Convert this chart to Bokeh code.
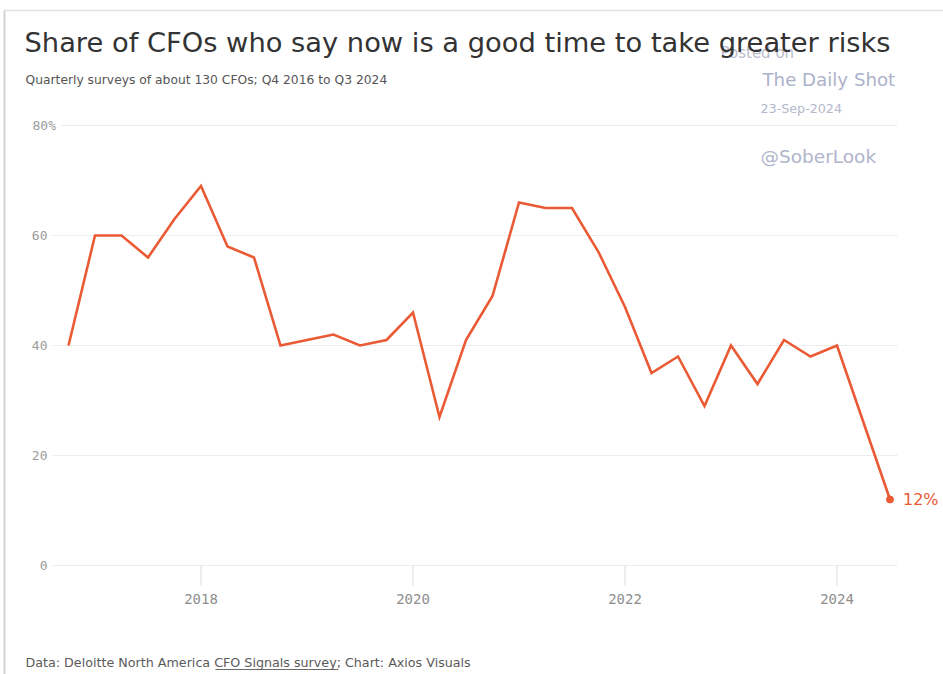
from bokeh.plotting import figure
from bokeh.models import Label, Range1d
from bokeh.core.properties import value
from bokeh.embed import file_html
from bokeh.resources import INLINE

# Survey quarters (decimal year) and share of CFOs (%)
quarters = ["Q4 2016", "Q1 2017", "Q2 2017", "Q3 2017", "Q4 2017",
            "Q1 2018", "Q2 2018", "Q3 2018", "Q4 2018",
            "Q1 2019", "Q2 2019", "Q3 2019", "Q4 2019",
            "Q1 2020", "Q2 2020", "Q3 2020", "Q4 2020",
            "Q1 2021", "Q2 2021", "Q3 2021", "Q4 2021",
            "Q1 2022", "Q2 2022", "Q3 2022", "Q4 2022",
            "Q1 2023", "Q2 2023", "Q3 2023", "Q4 2023",
            "Q1 2024", "Q2 2024", "Q3 2024"]
dates = [2016.75, 2017.0, 2017.25, 2017.5, 2017.75,
         2018.0, 2018.25, 2018.5, 2018.75,
         2019.0, 2019.25, 2019.5, 2019.75,
         2020.0, 2020.25, 2020.5, 2020.75,
         2021.0, 2021.25, 2021.5, 2021.75,
         2022.0, 2022.25, 2022.5, 2022.75,
         2023.0, 2023.25, 2023.5, 2023.75,
         2024.0, 2024.25, 2024.5]
values = [40, 60, 60, 56, 63,
          69, 58, 56, 40,
          41, 42, 40, 41,
          46, 27, 41, 49,
          66, 65, 65, 57,
          47, 35, 38, 29,
          40, 33, 41, 38,
          40, 26, 12]

x_ticks = [2018, 2020, 2022, 2024]
x_tick_labels = ["2018", "2020", "2022", "2024"]
y_ticks = [0, 20, 40, 60, 80]
y_tick_labels = ["0", "20", "40", "60", "80%"]

title_text = "Share of CFOs who say now is a good time to take greater risks"
subtitle_text = "Quarterly surveys of about 130 CFOs; Q4 2016 to Q3 2024"
footer_text = "Data: Deloitte North America CFO Signals survey; Chart: Axios Visuals"
watermark = ["Posted on", "The Daily Shot", "23-Sep-2024", "@SoberLook"]

# ---- layout (pixels of the 943x674 canvas) ----
W, H = 943, 674
PX_PER_YEAR = 106.0      # horizontal scale
PX_PER_PCT = 5.5         # vertical scale
FIRST_X_PX = 68          # pixel column of the first survey
ZERO_Y_PX = 565          # pixel row of 0%

x_start = dates[0] - FIRST_X_PX / PX_PER_YEAR
y_end = ZERO_Y_PX / PX_PER_PCT

def px2x(px):
    return x_start + px / PX_PER_YEAR

def py2y(py):
    return y_end - py / PX_PER_PCT

LINE = "#ea5a35"
MONO = "DejaVu Sans Mono"
SANS = "DejaVu Sans"

p = figure(width=W, height=H, title=None,
           x_range=Range1d(x_start, x_start + W / PX_PER_YEAR),
           y_range=Range1d(y_end - H / PX_PER_PCT, y_end),
           x_axis_location=None, y_axis_location=None,
           output_backend="svg", toolbar_location=None, min_border=0)
p.outline_line_color = None
p.grid.visible = False
p.background_fill_color = "white"
p.border_fill_color = "white"

# image frame lines (left and top)
p.segment(x0=[px2x(4)], y0=[py2y(10)], x1=[px2x(4)], y1=[py2y(H)],
          line_color="#d2d2d2", line_width=2)
p.segment(x0=[px2x(4)], y0=[py2y(10)], x1=[px2x(W)], y1=[py2y(10)],
          line_color="#e0e0e0", line_width=1.5)

# horizontal grid lines at the y ticks
grid_x0 = [px2x(61) if t == y_ticks[-1] else px2x(52) for t in y_ticks]
p.segment(x0=grid_x0, y0=y_ticks, x1=[px2x(897)] * len(y_ticks), y1=y_ticks,
          line_color="#ededed", line_width=1.2)

# x tick marks and labels
p.segment(x0=x_ticks, y0=[0] * len(x_ticks), x1=x_ticks,
          y1=[py2y(585)] * len(x_ticks), line_color="#e2e2e2", line_width=1.2)
p.text(x=x_ticks, y=[py2y(598)] * len(x_ticks), text=x_tick_labels,
       text_align="center", text_baseline="middle", text_font=value(MONO),
       text_font_size="14px", text_color="#8e8e8e")

# y tick labels (numbers right-aligned, "%" hanging on the top one)
p.text(x=[px2x(47)] * (len(y_ticks) - 1), y=y_ticks[:-1], text=y_tick_labels[:-1],
       text_align="right", text_baseline="middle", text_font=value(MONO),
       text_font_size="13px", text_color="#9c9c9c")
p.text(x=[px2x(55.5)], y=[y_ticks[-1]], text=[y_tick_labels[-1]],
       text_align="right", text_baseline="middle", text_font=value(MONO),
       text_font_size="13px", text_color="#9c9c9c")

# data line and end point
p.line(dates, values, line_color=LINE, line_width=2.6, line_join="miter")
p.scatter([dates[-1]], [values[-1]], size=7, fill_color=LINE, line_color=LINE)
p.text(x=[dates[-1]], y=[values[-1]], text=[f"{values[-1]}%"], x_offset=13,
       text_baseline="middle", text_align="left", text_font=value(SANS),
       text_font_size="16px", text_color=LINE)

def slabel(text, px, py, size, color, font=SANS, baseline="middle"):
    p.add_layout(Label(x=px, y=H - py, x_units="screen", y_units="screen", text=text,
                       text_baseline=baseline, text_align="left", text_font=font,
                       text_font_size=size, text_color=color))

# watermark
slabel(watermark[0], 720, 52, "15px", "#b9bccb")
slabel(watermark[1], 762, 78.5, "18.2px", "#adb2cb")
slabel(watermark[2], 760, 107.5, "12.7px", "#b4b8cc")
slabel(watermark[3], 760, 156, "18.5px", "#afb4cb")

# titles and source
slabel(title_text, 24, 42, "27.3px", "#333333", baseline="alphabetic")
slabel(subtitle_text, 25, 79, "12.3px", "#555555")
slabel(footer_text, 25, 662, "12.7px", "#5a5a5a")
# underline of the survey link in the source line
p.segment(x0=[px2x(215)], y0=[py2y(669)], x1=[px2x(338)], y1=[py2y(669)],
          line_color="#6a6a6a", line_width=1)

open("out.html", "w").write(file_html(p, INLINE))
